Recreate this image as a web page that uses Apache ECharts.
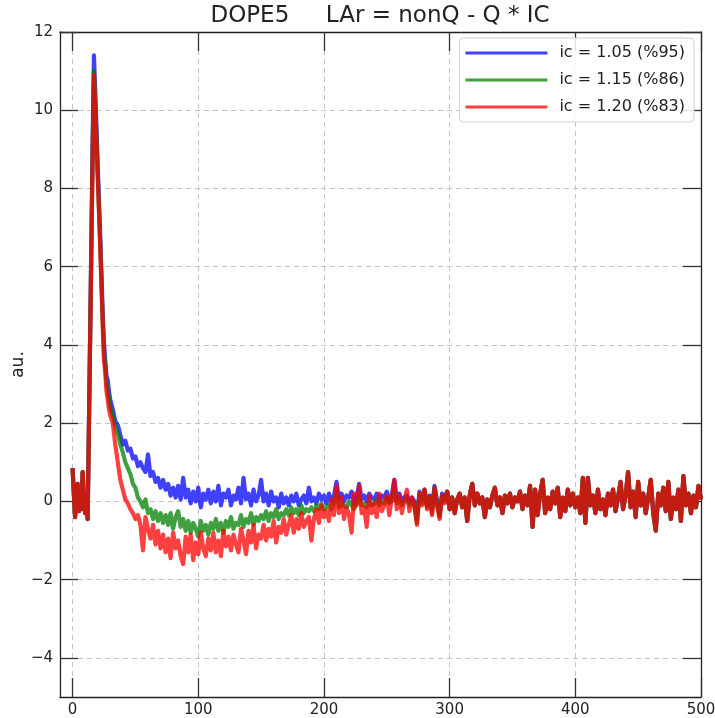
<!DOCTYPE html>
<html><head><meta charset="utf-8">
<script src="https://cdn.jsdelivr.net/npm/echarts@6/dist/echarts.min.js"></script>
<style>html,body{margin:0;padding:0;background:#fff}#c{width:715px;height:718px}</style>
</head><body><div id="c"></div>
<script>
const titleText = 'DOPE5     LAr = nonQ - Q * IC';
const yLabel = 'au.';
const seriesNames = ['ic = 1.05 (%95)', 'ic = 1.15 (%86)', 'ic = 1.20 (%83)'];
const xTicks = [0, 100, 200, 300, 400, 500];
const yTicks = [-4, -2, 0, 2, 4, 6, 8, 10, 12];

// sample positions: 0..30 step 1, then 32..500 step 2
const xs = [];
for (let x = 0; x <= 30; x++) xs.push(x);
for (let x = 32; x <= 500; x += 2) xs.push(x);

// x = 0..298 (individual curves)
const blueHead = [
  0.85,0.2,-0.4,0.1,0.45,-0.25,0.1,-0.2,0.75,0.1,-0.3,-0.2,-0.45,1.9,4.3,6.8,9.3,11.4,10.5,9.6,8.6,7.7,6.8,5.8,4.8,4.05,3.6,3.2,3.1,2.8,2.6,
  2.35,2.05,1.95,1.7,1.45,1.55,1.3,1.35,1.1,1.15,
  0.9,1.0,0.85,0.75,1.2,0.65,0.75,0.5,0.6,0.35,
  0.55,0.3,0.45,0.15,0.35,0.1,0.4,0.05,0.6,0.1,
  0.3,-0.05,0.25,0.0,0.35,-0.15,0.2,0.05,0.3,-0.05,
  0.25,0.0,0.4,-0.1,0.2,0.1,0.3,-0.1,0.15,0.05,
  0.35,-0.05,0.6,0.05,0.2,-0.1,0.3,0.0,0.15,0.55,
  0.0,0.2,-0.1,0.25,0.0,0.1,-0.15,0.2,-0.05,0.1,
  -0.1,0.15,0.0,0.2,-0.1,0.05,0.15,-0.05,0.35,0.0,
  0.1,-0.05,0.2,0.05,0.15,-0.05,0.2,0.0,0.15,0.5,
  0.05,0.2,0.0,0.15,0.1,0.25,-0.05,0.1,0.45,0.05,
  0.15,0.0,0.2,0.1,0.05,0.2,0.0,0.15,0.1,0.25,
  0.0,0.15,0.55,0.05,0.2,0.0,0.1,0.15,-0.05,0.1,
  0.0,-0.45,0.25,0.05,0.3,-0.1,0.15,-0.2,0.4,0.0,
  -0.35,0.2,0.05,0.25
];
const greenHead = [
  0.85,0.2,-0.4,0.1,0.45,-0.25,0.1,-0.2,0.75,0.1,-0.3,-0.2,-0.45,1.9,4.2,6.6,9.0,11.0,10.2,9.3,8.4,7.5,6.6,5.6,4.6,3.8,3.45,3.0,2.85,2.6,2.4,
  2.2,1.9,1.75,1.45,1.25,1.0,0.85,0.7,0.45,0.35,
  0.1,0.0,-0.15,0.05,-0.3,-0.2,-0.45,-0.25,-0.5,-0.3,
  -0.55,-0.35,-0.6,-0.3,-0.7,-0.4,-0.25,-0.65,-0.45,-0.75,
  -0.5,-0.8,-0.55,-0.7,-0.9,-0.5,-0.75,-0.6,-0.85,-0.55,
  -0.7,-0.45,-0.75,-0.55,-0.8,-0.5,-0.65,-0.4,-0.7,-0.55,
  -0.6,-0.35,-0.65,-0.45,-0.55,-0.3,-0.6,-0.4,-0.5,-0.35,
  -0.45,-0.25,-0.5,-0.3,-0.4,-0.2,-0.45,-0.3,-0.35,-0.2,
  -0.35,-0.15,-0.3,-0.2,-0.35,-0.1,-0.3,-0.2,-0.25,-0.15,
  -0.25,-0.1,-0.2,-0.05,-0.2,-0.15,-0.1,-0.2,-0.05,0.2,
  -0.15,-0.05,-0.1,-0.15,0.0,-0.1,-0.2,-0.05,0.1,-0.1,
  -0.05,-0.15,0.0,-0.1,-0.05,0.05,-0.1,0.0,-0.05,0.1,
  -0.05,0.0,0.3,-0.05,0.05,-0.1,0.0,0.05,-0.1,0.0,
  -0.1,-0.55,0.2,-0.05,0.3,-0.15,0.1,-0.3,0.35,-0.05,
  -0.4,0.15,0.0,0.25
];
const redHead = [
  0.85,0.2,-0.4,0.1,0.45,-0.25,0.1,-0.2,0.75,0.1,-0.3,-0.2,-0.45,1.9,4.2,6.5,8.9,10.9,10.1,9.2,8.3,7.4,6.5,5.5,4.5,3.6,3.3,2.8,2.6,2.35,2.2,
  2.0,1.45,1.0,0.55,0.3,0.05,-0.05,-0.2,-0.3,-0.45,
  -0.35,-0.6,-1.25,-0.4,-0.7,-0.95,-0.6,-1.1,-0.75,-1.2,
  -0.85,-1.3,-0.95,-1.45,-0.8,-1.2,-1.0,-1.4,-1.6,-0.9,
  -1.3,-0.85,-1.5,-1.05,-1.35,-0.8,-1.2,-1.4,-0.95,-1.25,
  -0.8,-1.3,-1.0,-1.4,-0.75,-1.15,-0.9,-1.25,-0.85,-1.1,
  -1.3,-0.7,-1.0,-1.35,-0.75,-1.05,-0.6,-1.2,-0.85,-0.95,
  -0.6,-1.0,-0.7,-0.9,-0.5,-1.05,-0.65,-0.8,-0.45,-0.85,
  -0.6,-0.35,-0.8,-0.45,-0.7,-0.3,-0.65,-0.5,-0.4,-1.0,
  -0.45,-0.2,-0.55,-0.1,-0.4,-0.25,-0.5,0.05,-0.35,0.4,
  -0.3,0.1,-0.45,-0.15,-0.35,-0.8,0.2,-0.1,0.4,-0.3,
  -0.15,-0.65,0.15,-0.3,-0.05,-0.4,0.2,-0.25,-0.1,0.15,
  -0.35,0.1,0.55,-0.2,0.15,-0.3,0.05,0.3,-0.25,0.1,
  -0.15,-0.6,0.2,-0.1,0.3,-0.2,0.1,-0.35,0.35,-0.1,
  -0.45,0.15,-0.05,0.25
];
// x = 300..500, where the three curves coincide
const sharedTail = [
  -0.2,0.1,-0.3,0.05,0.2,-0.15,0.1,-0.5,0.15,0.45,
  -0.1,0.2,-0.05,0.1,-0.4,0.05,-0.15,0.15,0.35,-0.1,
  0.1,-0.3,0.15,-0.05,0.2,-0.15,0.1,0.0,0.25,-0.2,
  0.15,-0.1,0.4,-0.65,0.3,-0.35,0.2,0.55,-0.3,0.1,
  -0.2,0.25,-0.05,0.35,-0.4,0.1,-0.25,0.3,-0.1,0.2,
  -0.15,0.1,-0.3,0.6,-0.55,0.6,-0.1,0.15,-0.3,0.3,
  -0.2,0.05,-0.35,0.2,-0.1,0.3,-0.25,0.1,0.5,-0.2,
  0.15,0.75,-0.15,0.25,-0.4,0.5,-0.1,0.2,-0.3,0.1,
  0.55,-0.3,-0.75,0.2,-0.1,0.35,-0.25,0.5,-0.45,0.1,
  -0.2,0.3,-0.5,0.65,-0.1,0.2,-0.3,0.15,-0.15,0.4,
  0.05
];

const blueY = blueHead.concat(sharedTail);
const greenY = greenHead.concat(sharedTail);
const redY = redHead.concat(sharedTail);
const colors = ['rgba(0,0,255,0.75)', 'rgba(0,128,0,0.75)', 'rgba(255,0,0,0.75)'];

const pair = ys => xs.map((x, i) => [x, ys[i]]);
const fmt = v => (v < 0 ? '\u2212' + (-v) : String(v));
const FONT = 'DejaVu Sans';

const chart = echarts.init(document.getElementById('c'), null, { renderer: 'canvas' });
const tickStyle = { color: '#333', width: 1.3 };
chart.setOption({
  animation: false,
  backgroundColor: '#fff',
  grid: { left: 60, right: 14, top: 32, bottom: 21, outerBoundsMode: 'none', containLabel: false },
  graphic: [{
    type: 'text', x: 380, y: 16,
    style: { text: titleText, font: '23px "DejaVu Sans"', fill: '#222', textAlign: 'center', textVerticalAlign: 'middle' }
  }],
  legend: {
    orient: 'vertical', right: 21, top: 38,
    padding: [7, 9, 7, 6], itemGap: 11, itemWidth: 82, itemHeight: 3,
    backgroundColor: 'rgba(255,255,255,0.85)', borderColor: '#d0d0d0', borderWidth: 1, borderRadius: 4,
    icon: 'rect',
    textStyle: { fontFamily: FONT, fontSize: 16, color: '#222', padding: [0, 0, 0, 7] },
    data: seriesNames.map((n, i) => ({ name: n, itemStyle: { color: colors[i] } }))
  },
  xAxis: [{
    type: 'value', min: -10, max: 500, position: 'bottom',
    axisLine: { show: true, onZero: false, lineStyle: { color: '#222', width: 1.3 } },
    axisTick: { show: true, inside: true, length: 19, customValues: xTicks, lineStyle: tickStyle },
    axisLabel: { customValues: xTicks, formatter: fmt, fontFamily: FONT, fontSize: 15, color: '#222', margin: 6 },
    splitLine: { show: true, lineStyle: { color: '#c4c4c4', type: [5, 4], width: 1 } }
  }, {
    type: 'value', min: -10, max: 500, position: 'top',
    axisLine: { show: true, onZero: false, lineStyle: { color: '#222', width: 1.3 } },
    axisTick: { show: true, inside: true, length: 19, customValues: xTicks, lineStyle: tickStyle },
    axisLabel: { show: false }, splitLine: { show: false }
  }],
  yAxis: [{
    type: 'value', min: -5, max: 12, position: 'left',
    name: yLabel, nameLocation: 'middle', nameGap: 33, nameRotate: 90, nameMoveOverlap: false,
    nameTextStyle: { fontFamily: FONT, fontSize: 17, color: '#222' },
    axisLine: { show: true, onZero: false, lineStyle: { color: '#222', width: 1.3 } },
    axisTick: { show: true, inside: true, length: 18, customValues: yTicks, lineStyle: tickStyle },
    axisLabel: { customValues: yTicks, formatter: fmt, fontFamily: FONT, fontSize: 15, color: '#222', margin: 7 },
    splitLine: { show: true, lineStyle: { color: '#c4c4c4', type: [5, 4], width: 1 } }
  }, {
    type: 'value', min: -5, max: 12, position: 'right',
    axisLine: { show: true, onZero: false, lineStyle: { color: '#222', width: 1.3 } },
    axisTick: { show: true, inside: true, length: 18, customValues: yTicks, lineStyle: tickStyle },
    axisLabel: { show: false }, splitLine: { show: false }
  }],
  series: [blueY, greenY, redY].map((ys, i) => ({
    name: seriesNames[i], type: 'line', data: pair(ys),
    xAxisIndex: 0, yAxisIndex: 0,
    showSymbol: false, symbol: 'none',
    lineStyle: { color: colors[i], width: 4.2, join: 'round' },
    itemStyle: { color: colors[i] },
    clip: true
  }))
});
</script></body></html>
